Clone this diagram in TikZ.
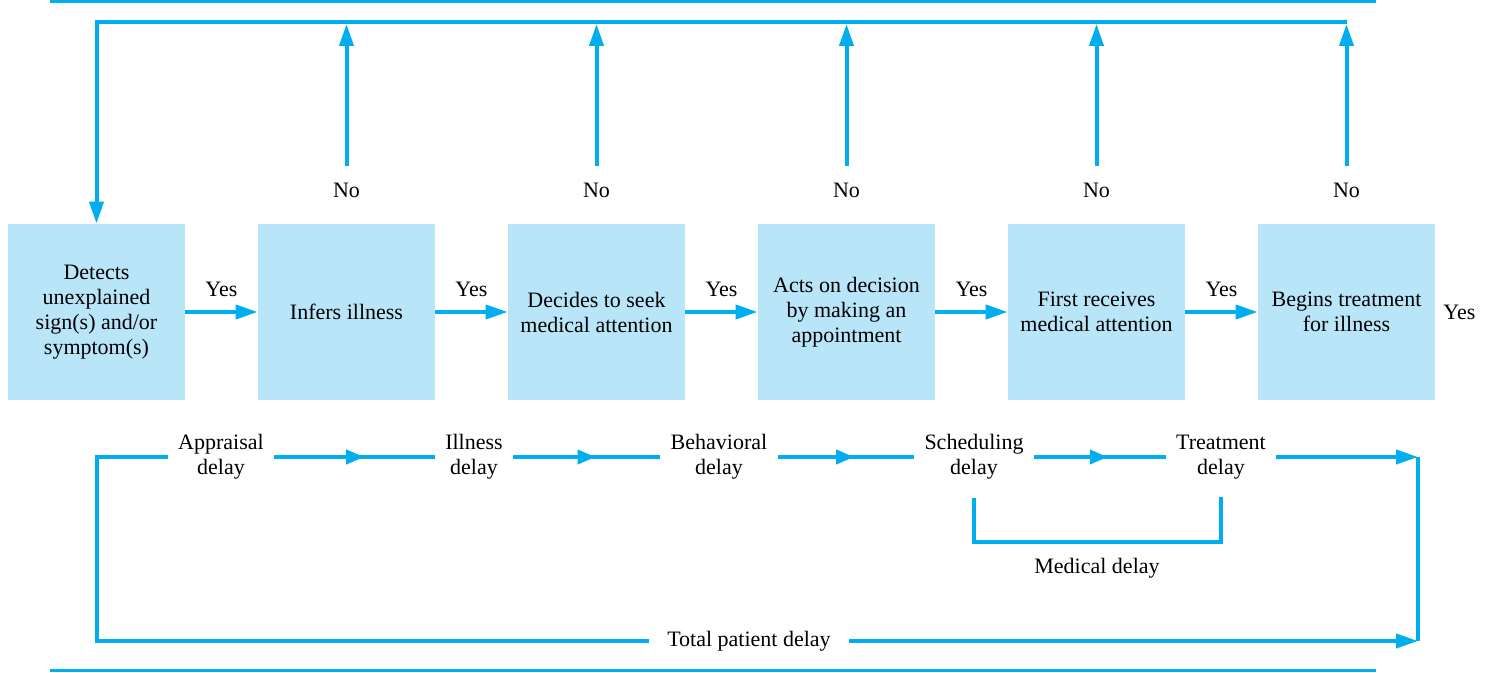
\documentclass[tikz,border=0pt]{standalone}
\usepackage{fontspec}
\setmainfont{Liberation Serif}
\usetikzlibrary{arrows.meta,positioning,calc,decorations.markings}
\definecolor{lineblue}{HTML}{00AEEF}
\definecolor{boxblue}{HTML}{B9E5F8}

\begin{document}
\begin{tikzpicture}[
            x=0.5pt, y=-0.5pt,
            font=\fontsize{11}{12.5}\selectfont,
            node distance=36.1pt,
            stage/.style={fill=boxblue, align=center, minimum width=88.5pt, minimum height=88pt, inner sep=2pt},
            delay/.style={align=center, inner xsep=5pt, inner ysep=3pt},
            flow/.style={draw=lineblue, line width=2pt},
            arrow/.style={flow, -{Triangle[length=11pt, width=7pt]}},
            midarrow/.style={flow, postaction={decorate}, decoration={markings, mark=at position 0.56 with {\arrow{Triangle[length=9pt, width=7pt, color=lineblue]}}}},
            rule/.style={draw=lineblue, line width=1.5pt}
        ]
            \useasboundingbox (0,0) rectangle (1490,673);

            % process steps
            \node[stage] (detect) at (96.5,312) {Detects\\unexplained\\sign(s) and/or\\symptom(s)};
            \node[stage, right=of detect] (infer) {Infers illness};
            \node[stage, right=of infer] (decide) {Decides to seek\\medical attention};
            \node[stage, right=of decide] (acts) {Acts on decision\\by making an\\appointment};
            \node[stage, right=of acts] (receive) {First receives\\medical attention};
            \node[stage, right=of receive] (begin) {Begins treatment\\for illness};
            \node[right=0.5pt of begin] (yes6) {Yes};

            \foreach \a/\b/\n in {detect/infer/1, infer/decide/2, decide/acts/3, acts/receive/4, receive/begin/5}
                \draw[arrow] (\a) -- node[above=3.5pt] (yes\n) {Yes} (\b);

            % feedback loop
            \coordinate (fb) at (0,22);
            \draw[arrow] (begin.north |- fb) -- (detect.north |- fb) -- (detect.north);
            \foreach \b in {infer, decide, acts, receive, begin} {
                \node[above=9.5pt of \b] (no-\b) {No};
                \draw[arrow] ([yshift=5pt]no-\b.north) -- ([yshift=-1pt]\b.north |- fb);
            }

            % delays
            \node[delay] (appraisal) at (221,457) {Appraisal\\delay};
            \node[delay] (illness) at (474,457) {Illness\\delay};
            \node[delay] (behav) at (719,457) {Behavioral\\delay};
            \node[delay] (sched) at (974,457) {Scheduling\\delay};
            \node[delay] (treat) at (1221,457) {Treatment\\delay};
            \node (medical) at (1097,568) {Medical delay};
            \node[delay, inner xsep=9pt] (total) at (749,641) {Total patient delay};
            \coordinate (rtop) at (1418,457);
            \coordinate (rbot) at (1418,641);

            \draw[midarrow] (appraisal) -- (illness);
            \draw[midarrow] (illness) -- (behav);
            \draw[midarrow] (behav) -- (sched);
            \draw[midarrow] (sched) -- (treat);
            \draw[arrow] (treat) -- (rtop);
            \draw[flow] (rtop) -- (rbot);
            \draw[arrow] (total) -- (rbot);
            \draw[flow] (appraisal) -| (total -| detect) -- (total);
            \draw[flow] ([yshift=-6pt]sched.south) -- ++(0,44) -| ([yshift=-6pt]treat.south);

            % frame rules
            \draw[rule] (50,1.5) -- (1376,1.5);
            \draw[rule] (50,671) -- (1376,671);
        \end{tikzpicture}
\end{document}
